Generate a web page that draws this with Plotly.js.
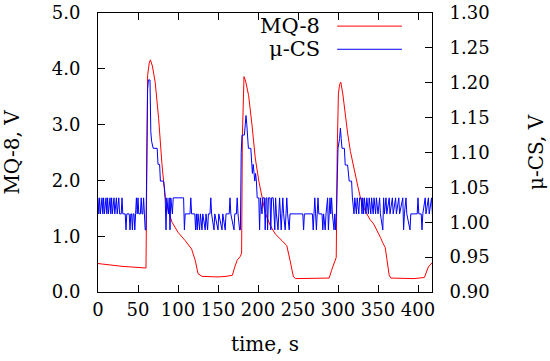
<!DOCTYPE html>
<html>
<head>
<meta charset="utf-8">
<script src="https://cdn.plot.ly/plotly-3.0.1.min.js"></script>
<style>html,body{margin:0;padding:0;background:#fff;}#chart{width:550px;height:361px;}</style>
</head>
<body>
<div id="chart"></div>
<script>
// ---- data ----
const seriesNames = ["MQ-8", "\u03bc-CS"];
const xTickVals = [0, 50, 100, 150, 200, 250, 300, 350, 400];
const leftTickVals = [0, 1, 2, 3, 4, 5];
const rightTickVals = [0.90, 0.95, 1.00, 1.05, 1.10, 1.15, 1.20, 1.25, 1.30];
const axisTitles = {x: "time, s", left: "MQ-8, V", right: "\u03bc-CS, V"};

// MQ-8 sensor voltage [time s, V]
const mq8Points = [
 [0,0.51],[10,0.49],[20,0.47],[30,0.46],[40,0.45],[50,0.44],[60,0.43],[61,2.2],[62,3.88],[64,4.10],
 [65.5,4.16],[68,4.05],[71.5,3.76],[75.8,3.11],[80,2.28],[84,1.69],[88,1.45],[92.5,1.25],[100,1.07],
 [109,0.92],[117,0.77],[121.5,0.57],[125,0.33],[130,0.28],[140,0.27],[150,0.27],[160,0.28],[168,0.30],
 [171,0.45],[174,0.57],[178,0.64],[179.5,0.70],[180.5,2.8],[181.5,3.75],[182.5,3.86],[184.5,3.78],
 [188.3,3.52],[192.5,2.99],[196.6,2.40],[201,1.99],[205,1.69],[209,1.42],[215.4,1.19],[221.6,1.04],
 [230,0.92],[236,0.83],[240,0.57],[244.3,0.27],[247,0.24],[260,0.24],[275,0.24],[289,0.25],[292,0.39],
 [296,0.55],[297.8,0.62],[299,2.5],[300.5,3.55],[302,3.72],[303.5,3.76],[306,3.55],[309,3.17],[312,2.85],
 [315.5,2.52],[318.5,2.30],[321.5,2.10],[325,1.88],[328,1.69],[332,1.52],[336,1.40],[340,1.30],
 [344.5,1.22],[349,1.10],[353,0.98],[356,0.88],[359,0.80],[361,0.60],[362.5,0.42],[364,0.30],[366,0.25],
 [380,0.24],[395,0.24],[408,0.26],[410,0.35],[413,0.45],[418,0.53]
];

// micro-CS sensor voltage [time s, V]
const muPoints = [
 [0,1.035],[1,1.012],[2,1.035],[3,1.012],[5,1.035],[6,1.012],[7,1.035],[8,1.012],[10,1.035],[11,1.012],
 [12,1.035],[13,1.012],[15,1.035],[16,1.012],[17,1.035],[18,1.012],[20,1.035],[21,1.012],[23,1.035],
 [24,1.012],[26,1.035],[27,1.012],[29,1.012],[30,1.035],[31,1.012],[34,1.012],[35,0.989],[36,1.012],
 [39,1.012],[40,0.989],[41,1.012],[42,1.012],[43,0.989],[44,1.012],[45,1.012],[46,0.989],[47,1.012],
 [48,1.035],[49,1.012],[50,1.035],[51,1.012],[53,1.012],[54,1.035],[55,1.012],[56,1.012],[57,1.035],
 [58,1.012],[59,0.989],[60,0.989],
 [61,1.10],[62,1.19],[63,1.204],[65,1.204],[66,1.13],[67,1.116],[69,1.106],[74,1.106],[75,1.083],
 [77,1.083],[78,1.059],[82,1.059],[83,1.05],[84,1.035],
 [85,0.989],[86,1.035],[88,1.012],[89,1.035],[90,0.989],[91,1.035],[93,1.012],[94,1.035],[107,1.035],
 [108,0.989],[109,1.012],
 [115,1.012],[116,1.035],[117,1.012],[121,1.012],[122,0.989],[123,1.012],[124,0.989],[125,1.012],
 [127,0.989],[128,1.012],[130,0.989],[131,1.012],[134,0.989],[135,1.012],[137,0.989],[138,1.012],
 [140,1.012],[141,1.035],[142,1.012],[145,0.989],[146,1.012],[150,0.989],[151,1.012],[155,0.989],
 [156,1.012],[159,0.989],[160,1.012],[164,1.012],[165,1.035],[166,1.012],[170,0.989],[171,1.012],
 [173,1.012],[174,1.035],[175,1.012],[177,0.989],[178,0.989],
 [179,1.10],[180,1.125],[183,1.125],[184,1.14],[185,1.153],[186,1.14],[187,1.12],[188,1.106],[191,1.106],
 [192,1.083],[193,1.07],[194,1.083],[195,1.07],[196,1.059],[197,1.07],[198,1.059],[199,1.035],
 [201,1.035],[202,0.989],[203,1.035],[205,1.012],[206,1.035],[208,1.035],[209,0.989],[210,1.035],
 [211,1.035],[212,0.989],[213,1.035],[215,1.035],[216,0.989],[217,1.035],[219,1.035],[220,1.012],
 [221,0.989],[222,1.035],[223,1.012],[225,0.989],[226,1.012],[227,1.035],[228,1.012],[229,0.989],
 [230,1.012],[231,1.035],[232,1.012],[234,0.989],[235,1.012],[236,1.035],[237,1.012],[239,0.989],
 [240,1.012],[256,1.012],[257,0.989],[258,1.012],[268,1.012],[269,0.989],[270,1.012],[271,1.035],
 [272,1.012],[273,0.989],[274,1.012],[275,1.035],[276,1.012],[280,1.012],[281,0.989],[282,1.012],
 [284,0.989],[285,1.012],[287,1.035],[288,0.989],[289,1.012],[290,1.035],[291,1.012],[292,1.035],
 [293,1.012],[295,0.989],[296,1.012],[297,0.989],
 [298,1.012],[299,1.07],[300,1.106],[302,1.12],[303,1.135],[304,1.12],[305,1.106],[308,1.106],
 [309,1.082],[312,1.082],[313,1.07],[314,1.059],[317,1.059],[318,1.035],
 [320,1.012],[321,1.035],[323,1.012],[324,1.035],[326,1.012],[327,1.035],[329,1.035],[330,1.012],
 [331,1.035],[332,1.012],[333,1.035],[335,1.012],[336,1.035],[338,1.012],[339,1.035],[341,1.012],
 [342,1.035],[344,1.012],[345,1.035],[347,1.012],[348,1.035],[350,1.012],
 [352,1.035],[353,1.012],[356,0.989],[357,1.035],[358,1.012],[360,1.035],[361,1.012],[364,1.035],
 [365,1.012],[368,1.035],[369,1.012],[372,1.035],[373,1.012],[376,1.035],[377,1.012],[381,1.035],
 [382,0.989],[383,1.012],[385,1.035],[386,1.012],[390,0.989],[391,1.012],[399,1.012],[400,1.035],
 [401,1.012],[404,1.012],[405,0.989],[406,1.012],[409,1.035],[410,1.012],[413,1.035],[414,1.012],
 [417,1.035],[418,1.012]
];

// ---- build chart ----
const FONT = "DejaVu Serif";
const colors = ["#ff0000", "#0000ff"];

const traces = [
  {x: mq8Points.map(p => p[0]), y: mq8Points.map(p => p[1]), name: seriesNames[0],
   type: "scatter", mode: "lines", line: {color: colors[0], width: 1}, yaxis: "y", showlegend: false},
  {x: muPoints.map(p => p[0]), y: muPoints.map(p => p[1]), name: seriesNames[1],
   type: "scatter", mode: "lines", line: {color: colors[1], width: 1}, yaxis: "y2", showlegend: false}
];

const legendY = [0.953, 0.870];
const annotations = seriesNames.map((n, i) => ({
  text: n, xref: "paper", yref: "paper", x: 0.666, y: legendY[i], xanchor: "right", yanchor: "middle",
  showarrow: false, borderpad: 0, borderwidth: 0, font: {family: FONT, size: 21, color: "#000"}
}));
const shapes = seriesNames.map((n, i) => ({
  type: "line", xref: "paper", yref: "paper", x0: 0.716, x1: 0.910, y0: legendY[i], y1: legendY[i],
  line: {color: colors[i], width: 1}
}));

const tickFont = {family: FONT, size: 18, color: "#000"};
const titleFont = {family: FONT, size: 20, color: "#000"};
const layout = {
  width: 550, height: 361,
  margin: {l: 98, r: 118, t: 13, b: 69, pad: 0},
  paper_bgcolor: "#fff", plot_bgcolor: "#fff",
  font: {family: FONT, size: 18, color: "#000"},
  showlegend: false,
  xaxis: {
    range: [0, 417.5], tickvals: xTickVals, ticktext: xTickVals.map(String),
    showline: true, linecolor: "#000", linewidth: 1, mirror: "ticks",
    ticks: "inside", ticklen: 7, tickcolor: "#000", showgrid: false, zeroline: false,
    tickfont: tickFont, ticklabelstandoff: 1, ticklabeloverflow: "allow",
    title: {text: axisTitles.x, font: titleFont, standoff: 18}
  },
  yaxis: {
    range: [0, 5], tickvals: leftTickVals, ticktext: leftTickVals.map(v => v.toFixed(1)),
    showline: true, linecolor: "#000", linewidth: 1, mirror: false,
    ticks: "inside", ticklen: 7, tickcolor: "#000", showgrid: false, zeroline: false,
    tickfont: tickFont, ticklabelstandoff: 13, ticklabeloverflow: "allow",
    title: {text: axisTitles.left, font: titleFont, standoff: 26}
  },
  yaxis2: {
    range: [0.9, 1.3], tickvals: rightTickVals, ticktext: rightTickVals.map(v => v.toFixed(2)),
    overlaying: "y", side: "right", anchor: "x",
    showline: true, linecolor: "#000", linewidth: 1,
    ticks: "inside", ticklen: 7, tickcolor: "#000", showgrid: false, zeroline: false,
    tickfont: tickFont, ticklabelstandoff: 13, ticklabeloverflow: "allow",
    title: {text: axisTitles.right, font: titleFont, standoff: 40}
  },
  annotations: annotations,
  shapes: shapes
};

Plotly.newPlot("chart", traces, layout, {staticPlot: true, displayModeBar: false});
</script>
</body>
</html>
